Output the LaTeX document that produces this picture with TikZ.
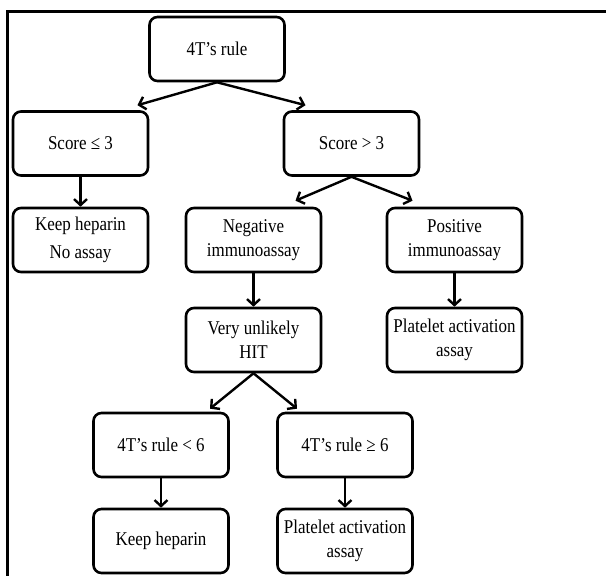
\documentclass[tikz,border=0pt]{standalone}
\usepackage{fontspec}
\setmainfont{Liberation Serif}[FakeStretch=0.87]
\usetikzlibrary{arrows.meta}
\begin{document}
\begin{tikzpicture}[x=1pt,y=-1pt,
  box/.style={draw,line width=2.6pt,rounded corners=8pt,minimum width=135pt,minimum height=64pt,align=center,font=\fontsize{19.5}{24}\selectfont,inner sep=2pt},
  arr/.style={line width=2.4pt,-{Straight Barb[length=6pt,width=13pt,line width=2.4pt]}}]
\useasboundingbox (0,0) rectangle (606,576);
\draw[line width=2.6pt] (7.5,580) -- (7.5,11.5) -- (610,11.5);
\node[box] (r) at (217,49) {4T’s rule};
\node[box] (s1) at (80.5,143.5) {Score ≤ 3};
\node[box] (s2) at (351.5,143.5) {Score > 3};
\node[box,font=\fontsize{19.5}{28}\selectfont] (k1) at (80.5,240) {Keep heparin\\No assay};
\node[box] (neg) at (253.5,240) {Negative\\immunoassay};
\node[box] (pos) at (454.5,240) {Positive\\immunoassay};
\node[box] (hit) at (253.5,340) {Very unlikely\\HIT};
\node[box] (pa1) at (454.5,340) {Platelet activation\\assay};
\node[box] (lt6) at (161,445) {4T’s rule < 6};
\node[box] (ge6) at (345,445) {4T’s rule ≥ 6};
\node[box] (k2) at (161,541) {Keep heparin};
\node[box] (pa2) at (345,541) {Platelet activation\\assay};
\draw[arr] (r.south) -- ([xshift=57pt,yshift=5pt]s1.north);
\draw[arr] (r.south) -- ([xshift=-46pt,yshift=5pt]s2.north);
\draw[arr] (s2.south) -- ([xshift=42pt,yshift=6pt]neg.north);
\draw[arr] (s2.south) -- ([xshift=-42pt,yshift=6pt]pos.north);
\draw[arr] (s1.south) -- (k1.north);
\draw[arr] (neg.south) -- (hit.north);
\draw[arr] (pos.south) -- (pa1.north);
\draw[arr] (hit.south) -- ([xshift=49pt,yshift=3pt]lt6.north);
\draw[arr] (hit.south) -- ([xshift=-48pt,yshift=3pt]ge6.north);
\draw[arr] (lt6.south) -- (k2.north);
\draw[arr] (ge6.south) -- (pa2.north);
\end{tikzpicture}
\end{document}
